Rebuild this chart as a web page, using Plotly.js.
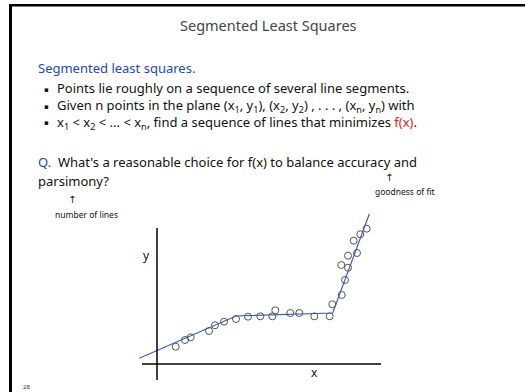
<!DOCTYPE html>
<html>
<head>
<meta charset="utf-8">
<script src="https://cdn.plot.ly/plotly-3.0.1.min.js"></script>
<style>
  html, body { margin: 0; padding: 0; background: #fff; }
  #slide { width: 525px; height: 392px; }
</style>
</head>
<body>
<div id="slide"></div>
<script>
// Sample points that lie roughly on three line segments
const pointsX = [1.87, 2.8, 3.37, 5.2, 5.8, 6.7, 7.9, 9.1, 10.33, 11.53, 11.83, 13.33, 14.23,
                 15.73, 17.27, 17.53, 18.47, 18.8, 18.43, 19.1, 19.1, 20.0, 19.67, 20.33, 20.97];
const pointsY = [1.73, 2.4, 2.67, 3.3, 3.87, 4.23, 4.5, 4.73, 4.77, 4.77, 5.37, 5.1, 5.1,
                 4.77, 4.77, 5.97, 6.9, 8.4, 9.9, 9.63, 10.83, 11.1, 12.33, 12.97, 13.53];

// Piecewise-linear fit: segment end points
const fitX = [-1.77, 7.9, 17.57, 21.23];
const fitY = [0.57, 4.8, 5.1, 15.0];

// Extent of the drawn x and y axis lines
const xAxisSpan = [-1.5, 22.4];
const yAxisSpan = [-1.6, 13.6];

// Slide text
const slideTitle = "Segmented Least Squares";
const heading = "Segmented least squares.";
const bulletLines = [
  "Points lie roughly on a sequence of several line segments.",
  "Given n points in the plane (x<sub>1</sub>, y<sub>1</sub>), (x<sub>2</sub>, y<sub>2</sub>) , . . . , (x<sub>n</sub>, y<sub>n</sub>) with",
  "x<sub>1</sub> &lt; x<sub>2</sub> &lt; ... &lt; x<sub>n</sub>, find a sequence of lines that minimizes <span style=\"color:#e8171b\">f(x)</span>."
];
const questionLines = [
  "<span style=\"color:#2547b4\">Q.</span>  What's a reasonable choice for f(x) to balance accuracy and",
  "parsimony?"
];
const noteFit = "goodness of fit";
const noteLines = "number of lines";
const pageNumber = "28";

const W = 525, H = 392;
const FONT = "Noto Sans, DejaVu Sans, sans-serif";
const fx = p => p / W;          // pixel -> paper x
const fy = p => 1 - p / H;      // pixel -> paper y

function note(text, x, y, size, color, anchor) {
  return {
    xref: "paper", yref: "paper", x: fx(x), y: fy(y),
    xanchor: anchor || "left", yanchor: "middle", align: "left",
    text: text, showarrow: false,
    font: { family: FONT, size: size, color: color || "#111" }
  };
}

const annotations = [
  note(slideTitle, 268, 25, 14.5, "#444", "center"),
  note(heading, 36, 68, 13, "#2547b4"),
  note("<b>▪</b>", 42, 89, 7, "#111"),
  note("<b>▪</b>", 42, 106, 7, "#111"),
  note("<b>▪</b>", 42, 123, 7, "#111"),
  // the three bullet lines share one block so their spacing stays even
  note(bulletLines.join("<br>"), 55, 106, 13),
  note(questionLines[0], 36, 162, 13),
  note(questionLines[1], 36, 181, 13),
  note("↑", 389, 177, 10, "#111", "center"),
  note(noteFit, 405, 191, 8.5, "#111", "center"),
  note("↑", 72, 199, 10, "#111", "center"),
  note(noteLines, 86, 214, 8.5, "#111", "center"),
  note(pageNumber, 26, 387, 6, "#333", "center"),
  {
    xref: "x", yref: "y", x: -1.1, y: 10.9, text: "y", showarrow: false,
    font: { family: FONT, size: 12, color: "#111" }
  },
  {
    xref: "x", yref: "y", x: 15.7, y: -0.8, text: "x", showarrow: false,
    font: { family: FONT, size: 12, color: "#111" }
  }
];

const shapes = [
  // slide frame: top and left edges
  { type: "line", xref: "paper", yref: "paper", x0: fx(10), x1: 1, y0: fy(5.3), y1: fy(5.3),
    line: { color: "#000", width: 2.5 } },
  { type: "line", xref: "paper", yref: "paper", x0: fx(10.5), x1: fx(10.5), y0: fy(4), y1: 0,
    line: { color: "#000", width: 3 } },
  // chart axes crossing at the origin
  { type: "line", xref: "x", yref: "y", x0: xAxisSpan[0], x1: xAxisSpan[1], y0: 0, y1: 0,
    line: { color: "#000", width: 1.5 } },
  { type: "line", xref: "x", yref: "y", x0: 0, x1: 0, y0: yAxisSpan[0], y1: yAxisSpan[1],
    line: { color: "#000", width: 1.5 } }
];

const traces = [
  {
    x: fitX, y: fitY, mode: "lines", type: "scatter",
    line: { color: "#3a5fb8", width: 1.2 }, hoverinfo: "skip"
  },
  {
    x: pointsX, y: pointsY, mode: "markers", type: "scatter", cliponaxis: false,
    marker: { symbol: "circle-open", size: 7, color: "#555", line: { width: 1, color: "#555" } },
    hoverinfo: "skip"
  }
];

const layout = {
  width: W, height: H,
  margin: { l: 0, r: 0, t: 0, b: 0 },
  paper_bgcolor: "#fff", plot_bgcolor: "rgba(0,0,0,0)",
  showlegend: false,
  xaxis: { domain: [fx(130), fx(390)], range: [(130 - 157) / 10, (390 - 157) / 10], visible: false, fixedrange: true },
  yaxis: { domain: [fy(390), fy(200)], range: [(364 - 390) / 10, (364 - 200) / 10], visible: false, fixedrange: true },
  annotations: annotations,
  shapes: shapes
};

Plotly.newPlot("slide", traces, layout, { staticPlot: true, displayModeBar: false });
</script>
</body>
</html>
